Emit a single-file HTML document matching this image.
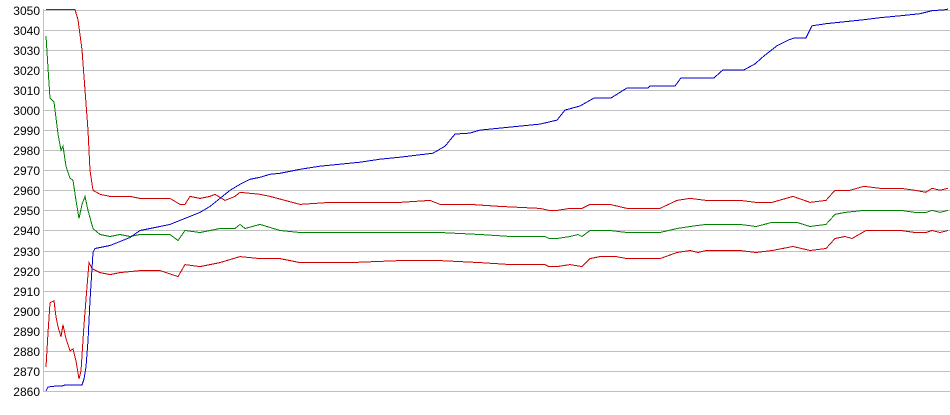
<!DOCTYPE html>
<html><head><meta charset="utf-8"><style>
html,body{margin:0;padding:0;background:#fff;width:950px;height:415px;overflow:hidden}
svg{display:block}
text{font-family:"Liberation Sans",sans-serif;font-size:12px;fill:#000}
</style></head><body>
<svg id="c" width="950" height="415" xmlns="http://www.w3.org/2000/svg"></svg>
<script>
var s=document.getElementById('c');
function Y(v){return 9.7+(3050-v)*2.007;}
var h='';
for(var v=2860;v<=3050;v+=10){var y=Math.round(Y(v))+0.5;
h+='<line x1="43" y1="'+y+'" x2="950" y2="'+y+'" stroke="#c0c0c0" stroke-width="1"/>';
h+='<text x="40" y="'+(y+4.5)+'" text-anchor="end">'+v+'</text>';}
h+='<line x1="43.5" y1="9" x2="43.5" y2="392" stroke="#c0c0c0"/>';
function pl(a,c){var p=[];for(var i=0;i<a.length;i+=2)p.push(a[i]+','+Y(a[i+1]).toFixed(1));
return '<polyline fill="none" stroke="'+c+'" stroke-width="1" shape-rendering="crispEdges" points="'+p.join(' ')+'"/>';}
var blue=[46,2860,48,2862,56,2862.5,62,2862.5,65,2863,80,2863,82,2863,84,2866,86,2872,88,2885,90,2905,93,2929,95,2931,100,2931.5,110,2932.5,120,2934.5,130,2936.5,140,2940,150,2941,160,2942,170,2943,180,2945,190,2947,200,2949,210,2952,220,2956,230,2960,240,2963,250,2965.5,260,2966.5,270,2968,280,2968.5,300,2970.5,320,2972,340,2973,360,2974,380,2975.5,400,2976.5,433,2978.5,445,2982,455,2988,470,2988.5,480,2990,500,2991,520,2992,540,2993,557,2995,565,3000,580,3002,594,3006,611,3006,627,3011,648,3011,650,3012,675,3012,681,3016,714,3016,723,3020,744,3020,755,3023,764,3027,777,3032,789,3035,795,3036,806,3036,812,3042,826,3043,845,3044,864,3045,880,3046,901,3047,920,3048,932,3049.5,945,3050,948,3050.3];
var ru=[46,3050,75,3050,78,3045,82,3030,85,3010,88,2990,90,2970,93,2960,100,2958,110,2957,120,2957,130,2957,140,2956,150,2956,160,2956,170,2956,180,2953,185,2953,190,2957,200,2956,210,2957,215,2958,225,2955,235,2957,240,2959,260,2958,270,2957,285,2955,300,2953,330,2954,350,2954,380,2954,400,2954,430,2955,440,2953,470,2953,500,2952,540,2951,549,2950,557,2950,570,2951,582,2951,590,2953,610,2953,627,2951,660,2951,677,2955,690,2956,706,2955,740,2955,756,2954,772,2954,793,2957,810,2954,826,2955,835,2960,850,2960,864,2962,880,2961,901,2961,915,2960,926,2959,932,2961,940,2960,948,2961];
var gr=[46,3037,48,3021,50,3006,54,3004,56,2996,58,2988,61,2980,63,2982,66,2972,70,2966,73,2965,76,2955,79,2946,82,2953,85,2957,88,2950,93,2941,100,2938,110,2937,120,2938,130,2937,140,2938,150,2938,170,2938,178,2935,185,2940,200,2939,220,2941,235,2941,240,2943,245,2941,260,2943,280,2940,300,2939,350,2939,400,2939,440,2939,480,2938,511,2937,545,2937,549,2936,557,2936,570,2937,578,2938,582,2937,590,2940,610,2940,627,2939,660,2939,677,2941,690,2942,706,2943,740,2943,756,2942,772,2944,797,2944,810,2942,826,2943,835,2948,845,2949,864,2950,901,2950,915,2949,926,2949,932,2950,940,2949,948,2950];
var rl=[46,2872,48,2889,50,2904,54,2905,56,2897,58,2892,61,2887,63,2893,66,2886,70,2880,73,2881,76,2875,79,2866,81,2870,84,2893,87,2912,89,2924,92,2921,100,2919,110,2918,120,2919,140,2920,160,2920,178,2917,185,2923,200,2922,220,2924,240,2927,260,2926,280,2926,300,2924,350,2924,400,2925,440,2925,480,2924,511,2923,545,2923,549,2922,557,2922,570,2923,582,2922,590,2926,600,2927,616,2927,627,2926,660,2926,677,2929,690,2930,698,2929,706,2930,740,2930,756,2929,772,2930,793,2932,810,2930,826,2931,835,2936,845,2937,852,2936,866,2940,901,2940,915,2939,926,2939,932,2940,940,2939,948,2940];
h+=pl(gr,'#008000')+pl(ru,'#cc0000')+pl(rl,'#cc0000')+pl(blue,'#0000cc');
s.innerHTML=h;
</script>
</body></html>
